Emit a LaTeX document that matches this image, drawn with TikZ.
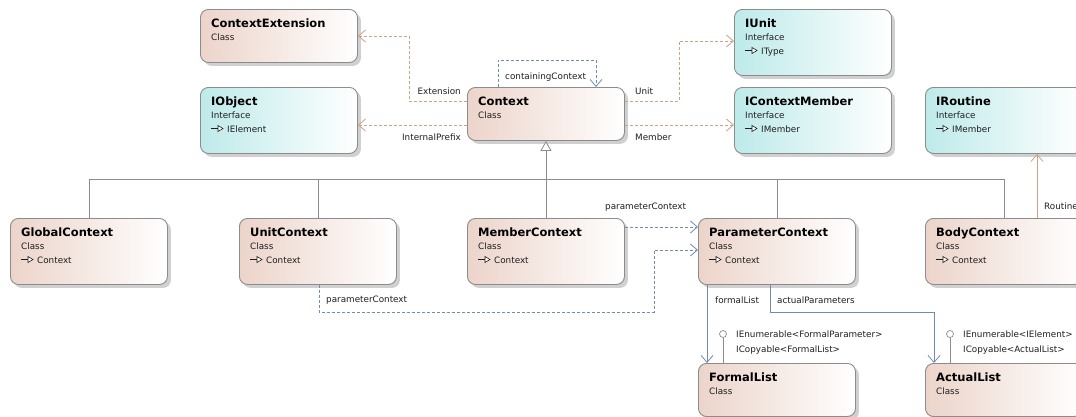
\documentclass[tikz,border=0pt]{standalone}
\usepackage{fontspec}
\setmainfont{DejaVu Sans}
\usetikzlibrary{arrows.meta,shadows}
\definecolor{clsL}{RGB}{236,212,202}
\definecolor{ifL}{RGB}{190,234,234}
\definecolor{bord}{RGB}{140,140,140}
\definecolor{depO}{RGB}{206,162,134}
\definecolor{depB}{RGB}{112,140,180}
\definecolor{genG}{RGB}{140,140,140}
\definecolor{shd}{RGB}{208,208,208}
\definecolor{txt}{RGB}{30,30,30}
\tikzset{
 box/.style={draw=bord, line width=0.9pt, rounded corners=8pt, minimum width=157, anchor=north west, inner sep=0,
   drop shadow={shadow xshift=3.5pt, shadow yshift=-3.5pt, fill=shd, opacity=1}},
 cls/.style={box, left color=clsL, right color=white},
 ifc/.style={box, left color=ifL, right color=white},
 ttl/.style={anchor=base west, inner sep=0, font=\fontsize{11.5}{13}\selectfont\bfseries, text=black},
 sub/.style={anchor=base west, inner sep=0, font=\fontsize{8.8}{10}\selectfont, text=txt},
 lbl/.style={anchor=base west, inner sep=0, font=\fontsize{8.8}{10}\selectfont, text=txt},
 lble/.style={lbl, anchor=base east},
 barb/.style={-{Straight Barb[length=7pt,width=12pt]}},
 depo/.style={draw=depO, dash pattern=on 3pt off 2pt, line width=0.8pt, barb},
 depb/.style={draw=depB, dash pattern=on 3pt off 2pt, line width=0.8pt, barb},
 assb/.style={draw=depB, line width=0.8pt, barb},
 asso/.style={draw=depO, line width=0.8pt, barb},
 genl/.style={draw=genG, line width=0.8pt},
 lolly/.style={circle, draw=genG, fill=white, minimum size=7, inner sep=0, line width=0.7pt},
}
\newcommand\ubox[7]{%
 \node[#5, minimum height=#4] (#1) at (#2,#3) {};
 \node[ttl] (#1-t) at ([shift={(11,18)}]#1.north west) {#6};
 \node[sub] (#1-s) at ([shift={(11,31)}]#1.north west) {#7};}
\newcommand\uparent[2]{%
 \draw[line width=0.7pt, txt] ([shift={(11,41.5)}]#1.north west) -- ++(7,0);
 \draw[line width=0.6pt, txt, fill=white] ([shift={(18,38.5)}]#1.north west) -- ++(5,3) -- ++(-5,3) -- cycle;
 \node[sub] (#1-p) at ([shift={(27,45)}]#1.north west) {#2};}
\begin{document}
\begin{tikzpicture}[x=1pt,y=-1pt]
\useasboundingbox (0,0) rectangle (1076,416);
\clip (0,0) rectangle (1076,416);
% boxes
\ubox{ce}{200}{9}{53}{cls}{ContextExtension}{Class}
\ubox{io}{200}{87}{66}{ifc}{IObject}{Interface}\uparent{io}{IElement}
\ubox{ctx}{467}{87}{53}{cls}{Context}{Class}
\ubox{iu}{734}{9}{66}{ifc}{IUnit}{Interface}\uparent{iu}{IType}
\ubox{icm}{734}{87}{66}{ifc}{IContextMember}{Interface}\uparent{icm}{IMember}
\ubox{ir}{925}{87}{66}{ifc}{IRoutine}{Interface}\uparent{ir}{IMember}
\ubox{gc}{10}{218}{66}{cls}{GlobalContext}{Class}\uparent{gc}{Context}
\ubox{uc}{239}{218}{66}{cls}{UnitContext}{Class}\uparent{uc}{Context}
\ubox{mc}{467}{218}{66}{cls}{MemberContext}{Class}\uparent{mc}{Context}
\ubox{pc}{698}{218}{66}{cls}{ParameterContext}{Class}\uparent{pc}{Context}
\ubox{bc}{925}{218}{66}{cls}{BodyContext}{Class}\uparent{bc}{Context}
\ubox{fl}{698}{363}{53}{cls}{FormalList}{Class}
\ubox{al}{925}{363}{53}{cls}{ActualList}{Class}
% generalization tree
\coordinate (bus) at (0,179);
\draw[genl] (gc.north) |- (bus -| bc.north) -- (bc.north);
\draw[genl] (uc.north) -- (uc.north |- bus);
\draw[genl] (pc.north) -- (pc.north |- bus);
\draw[genl, -{Triangle[open, length=10pt, width=11pt, fill=white]}] (mc.north) -- (ctx.south);
% dependencies from Context
\draw[depo] (ctx.west |- 0,101) -| (409,36) -- (ce.east |- 0,36);
\draw[depo] (ctx.west |- 0,125) -- (io.east |- 0,125);
\draw[depo] (ctx.east |- 0,101) -| (679,41) -- (iu.west |- 0,41);
\draw[depo] (ctx.east |- 0,125) -- (icm.west |- 0,125);
\draw[depb] (ctx.north -| 498,0) |- (596,60) -- (ctx.north -| 596,0);
\node[lble] (l-ext) at (461,94) {Extension};
\node[lble] (l-ip) at (461,140) {InternalPrefix};
\node[lbl] (l-unit) at (635,94) {Unit};
\node[lbl] (l-mem) at (635,140) {Member};
\node[lbl] (l-cc) at (505,79) {containingContext};
% Routine
\draw[asso] (bc.north -| 1037,0) -- (ir.south -| 1037,0);
\node[lbl] (l-rt) at (1044,209) {Routine};
% parameterContext
\draw[depb] (mc.east |- 0,227) -- (pc.west |- 0,227);
\node[lbl] (l-pc1) at (605,209) {parameterContext};
\draw[depb] (uc.south -| 319,0) |- (654,312) |- (pc.west |- 0,250);
\node[lbl] (l-pc2) at (326,302) {parameterContext};
% lists
\draw[assb] (pc.south -| 707,0) -- (fl.north -| 707,0);
\node[lbl] (l-fl) at (715,303) {formalList};
\draw[assb] (pc.south -| 770,0) |- (934,312) -- (al.north -| 934,0);
\node[lbl] (l-ap) at (777,303) {actualParameters};
% lollipops
\node[lolly] (flc) at (723,334) {};
\draw[genl] (flc.south) -- (fl.north -| flc.south);
\node[lbl] (fl-i1) at (736,337) {IEnumerable<FormalParameter>};
\node[lbl] (fl-i2) at (736,352) {ICopyable<FormalList>};
\node[lolly] (alc) at (950,334) {};
\draw[genl] (alc.south) -- (al.north -| alc.south);
\node[lbl] (al-i1) at (963,337) {IEnumerable<IElement>};
\node[lbl] (al-i2) at (963,352) {ICopyable<ActualList>};
\end{tikzpicture}
\end{document}
